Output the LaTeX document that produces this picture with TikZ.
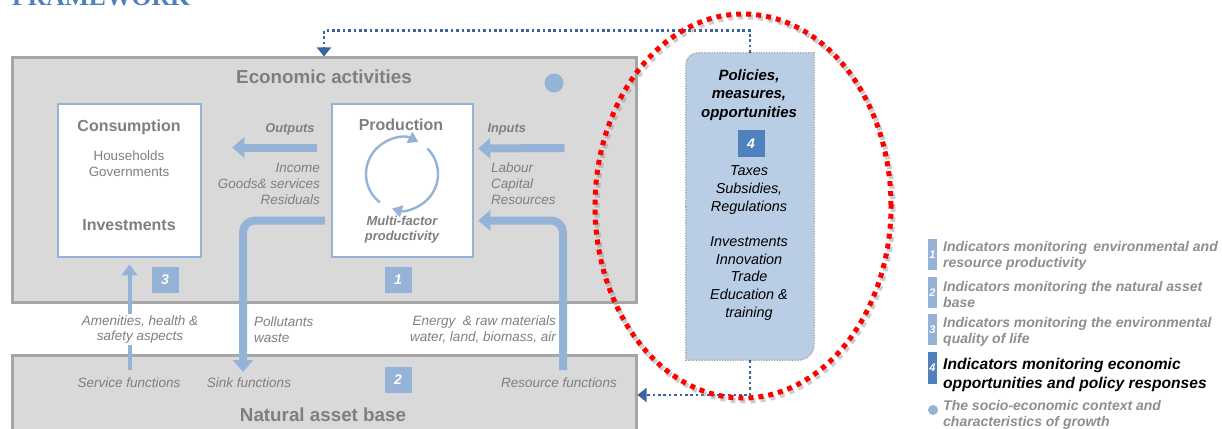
\documentclass[tikz,border=0pt]{standalone}
\usepackage{fontspec}
\setmainfont{Liberation Sans}
\newfontfamily\titleserif{Liberation Serif}
\usepackage{xcolor}
\usetikzlibrary{arrows.meta,positioning,calc}

\definecolor{areagray}{HTML}{D9D9D9}
\definecolor{linegray}{HTML}{A6A6A6}
\definecolor{txtgray}{HTML}{7F7F7F}
\definecolor{leggray}{HTML}{8E8E8E}
\definecolor{flowblue}{HTML}{95B3D7}
\definecolor{polblue}{HTML}{B9CDE5}
\definecolor{deepblue}{HTML}{4F81BD}
\definecolor{linkblue}{HTML}{3A659C}

\newcommand{\fs}[2]{\fontsize{#1}{#2}\selectfont}

\begin{document}
\begin{tikzpicture}[x=1pt, y=-1pt,
  areabox/.style={draw=linegray, line width=3pt, fill=areagray, minimum width=624pt},
  innerbox/.style={draw=flowblue, line width=2.5pt, fill=white, minimum height=153pt},
  badge/.style={fill=flowblue, text=white, minimum width=27pt, minimum height=26pt,
                inner sep=0pt, font=\fs{14}{16}\bfseries\itshape},
  head/.style={font=\fs{18.8}{22}\bfseries, text=txtgray},
  sub/.style={font=\fs{16}{19}\bfseries, text=txtgray},
  lbl/.style={font=\fs{13.5}{15.5}\itshape, text=txtgray, inner sep=1pt},
  flowlbl/.style={font=\fs{12.8}{15}\bfseries\itshape, text=txtgray},
  pipe/.style={draw=flowblue, line width=8pt, rounded corners=12pt,
               -{Triangle[width=20pt,length=12pt]}},
  thinarr/.style={draw=flowblue, line width=4pt, -{Triangle[width=15pt,length=11pt]}},
  cyc/.style={draw=flowblue, line width=2.4pt, -{Triangle[width=12pt,length=10pt]}},
  dotarr/.style={draw=linkblue, line width=2.6pt, dash pattern=on 2.6pt off 2.8pt,
                 -{Triangle[width=14pt,length=9pt]}},
  ring/.style={draw=red, line width=5pt, dash pattern=on 5pt off 5pt},
  ringshade/.style={draw=black!40, opacity=.5, line width=5pt, dash pattern=on 5pt off 5pt},
  legtxt/.style={anchor=west, align=left, inner sep=0pt,
                 font=\fs{14}{16}\bfseries\itshape, text=leggray},
  legbar/.style={minimum width=9pt, minimum height=31pt, inner sep=0pt, text=white,
                 font=\fs{11}{12}\bfseries\itshape}
]
  \useasboundingbox (0,0) rectangle (1222,428);

  % Title, cut by the page edge
  \node[anchor=base west, inner sep=0pt, font=\titleserif\fs{25.6}{28}\bfseries,
        text=deepblue] (ttl) at (12,6) {FRAMEWORK};

  % Economic activities and natural asset base
  \node[areabox, minimum height=244pt] (eco) at (324,180) {};
  \node[areabox, minimum height=80pt] (nat) at (324,395) {};
  \node[head] (ecot) at (324,77) {Economic activities};
  \node[head] (natt) at (323,415) {Natural asset base};
  \node[circle, fill=flowblue, minimum size=19pt, inner sep=0pt] (ctx) at (554,83) {};

  % Consumption / production
  \node[innerbox, minimum width=143pt] (cons) at (129.5,180.5) {};
  \node[innerbox, minimum width=141pt] (prod) at (402.5,180.5) {};
  \node[sub] (cont) at (129,127) {Consumption};
  \node[font=\fs{13.4}{16}, text=txtgray, align=center] (hh) at (129,164) {Households\\Governments};
  \node[sub] (inv) at (129,225) {Investments};
  \node[sub] (prodt) at (401,125) {Production};
  \node[align=center, font=\fs{13}{15}\bfseries\itshape, text=txtgray] (mfp) at (402,230) {Multi-factor\\productivity};

  \coordinate (cyc) at (402,174);
  \draw[cyc] ($(cyc)+(232:36pt)$) arc[start angle=232, end angle=63, radius=36pt];
  \draw[cyc] ($(cyc)+(45:36pt)$) arc[start angle=45, end angle=-106, radius=36pt];

  % Outputs and inputs
  \draw[pipe] ($(prod.west)+(-14,-33)$) -- ($(cons.east)+(30,-33)$);
  \draw[pipe] ($(eco.east)+(-73,-32)$) -- ($(prod.east)+(4,-32)$);
  \node[flowlbl, anchor=east] (outl) at (318,129) {Outputs};
  \node[lbl, anchor=east, align=right, font=\fs{13.5}{16}\itshape] (outx) at (321,184) {Income\\Goods\& services\\Residuals};
  \node[flowlbl, anchor=west] (inl) at (484,129) {Inputs};
  \node[lbl, anchor=west, align=left, font=\fs{13.5}{16}\itshape] (inx) at (490,184) {Labour\\Capital\\Resources};

  % Exchanges with the natural asset base
  \coordinate (svc) at (129.5,370);
  \coordinate (snk) at (243,372);
  \coordinate (res) at (563,370);
  \draw[pipe] ($(prod.west)+(-6,40)$) -| (snk);
  \draw[pipe] (res) |- ($(prod.east)+(4,40)$);
  \draw[thinarr] (svc) -- ([yshift=-6pt]cons.south);

  \node[lbl, fill=white, align=center] (amen) at (140,329.5) {Amenities, health \&\\safety aspects};
  \node[lbl, anchor=west, align=left] (poll) at (253,329.5) {Pollutants\\waste};
  \node[lbl, anchor=east, align=right] (enrg) at (557,329.5) {Energy\ \ \& raw materials\\water, land, biomass, air};
  \node[lbl] (svct) at (129,383) {Service functions};
  \node[lbl] (snkt) at (249,383) {Sink functions};
  \node[lbl] (rest) at (559,383) {Resource functions};

  \node[badge] (b3) at (165,280) {3};
  \node[badge] (b1) at (398,280) {1};
  \node[badge] (b2) at (398,379.5) {2};

  % Policies
  \node[minimum width=128pt, minimum height=307pt, inner sep=0pt] (pol) at (750,206.5) {};
  \path[draw=linegray, line width=1.3pt, dash pattern=on 1.3pt off 1.3pt, fill=polblue]
    (pol.west) [rounded corners=12pt] -- (pol.north west) [sharp corners] -- (pol.north east)
    [rounded corners=16pt] -- (pol.south east) [sharp corners] -- (pol.south west) -- cycle;
  \node[font=\fs{15}{18.5}\bfseries\itshape, align=center] (polt) at (749,95) {Policies,\\measures,\\opportunities};
  \node[badge, fill=deepblue, minimum height=27pt] (b4) at (751,143.5) {4};
  \node[font=\fs{14.4}{18}\itshape, align=center] (tax) at (749,190) {Taxes\\Subsidies,\\Regulations};
  \node[font=\fs{14.4}{17.8}\itshape, align=center] (invp) at (749,278.5) {Investments\\Innovation\\Trade\\Education \&\\training};

  \draw[dotarr] (pol.north) -- ++(0,-22) -| (eco.north);
  \draw[dotarr] (pol.south) |- (nat.east);

  % Highlight ring
  \draw[ringshade] (745,209) ellipse [x radius=148pt, y radius=192pt];
  \draw[ring] (743,206) ellipse [x radius=148pt, y radius=192pt];

  % Legend
  \node[legbar, fill=flowblue] (l1) at (932.5,254.5) {1};
  \node[legbar, fill=flowblue] (l2) at (932.5,292.5) {2};
  \node[legbar, fill=flowblue] (l3) at (932.5,329.5) {3};
  \node[legbar, fill=deepblue, minimum height=32pt] (l4) at (932.5,368) {4};
  \node[circle, fill=flowblue, minimum size=10pt, inner sep=0pt] (l5) at (933,410) {};
  \node[legtxt] (t1) at (943,255.5) {Indicators monitoring\, environmental and\\resource productivity};
  \node[legtxt] (t2) at (943,294) {Indicators monitoring the natural asset\\base};
  \node[legtxt] (t3) at (943,332) {Indicators monitoring the environmental\\quality of life};
  \node[legtxt, text=black, font=\fs{15.6}{19}\bfseries\itshape] (t4) at (943,374.5) {Indicators monitoring economic\\opportunities and policy responses};
  \node[legtxt] (t5) at (943,415) {The socio-economic context and\\characteristics of growth};
\end{tikzpicture}
\end{document}
